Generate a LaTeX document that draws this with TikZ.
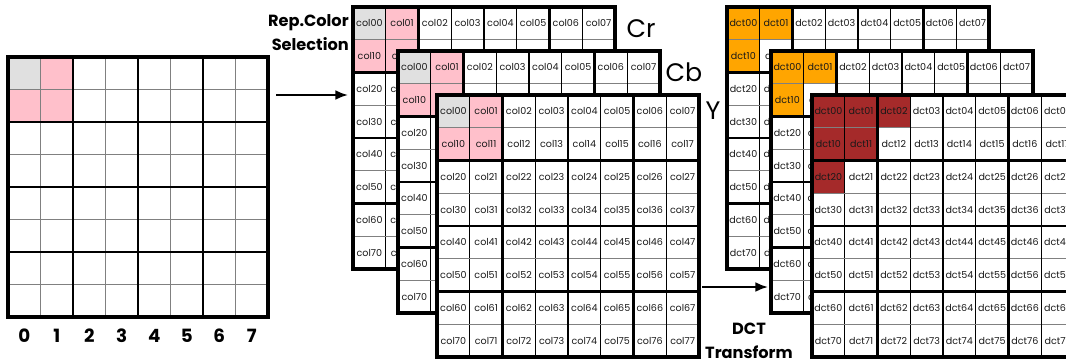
\documentclass[tikz,border=0pt]{standalone}
\usepackage{fontspec}
\setmainfont{Poppins}
\usepackage{xcolor}
\usepackage{tikz}
\usetikzlibrary{arrows.meta}
\tikzset{>=latex}
\colorlet{cellgray}{black!12}
\definecolor{cellpink}{HTML}{FFC0CB}
\definecolor{cellorange}{HTML}{FFA500}
\definecolor{cellred}{HTML}{A52A2A}
\tikzstyle{thickline}=[line width=2.1pt]
\tikzstyle{frame}=[line width=2.8pt]
\tikzstyle{hline}=[thin,black!50]
\tikzstyle{vline}=[thin,black]
\tikzstyle{celltext}=[font=\fontsize{6.8}{7}\selectfont,text=black!90,inner sep=0pt]
\tikzstyle{biglabel}=[font=\fontsize{18}{20}\selectfont,inner sep=0pt]
\tikzstyle{steplabel}=[font=\bfseries\fontsize{11.5}{17}\selectfont,inner sep=0pt]
\tikzstyle{flow}=[-{Latex[length=9pt,width=7pt]},line width=1.4pt]
\newcommand{\cs}{32.75}
% one 8x8 block: x, y, name, prefix, highlighted cells
\newcommand{\coefblock}[5]{%
  \begin{scope}[shift={(#1,#2)}]
    \fill[white] (0,0) rectangle (8*\cs,8*\cs);
    \foreach \r/\c/\hc in {#5} {\fill[\hc] (\c*\cs,\r*\cs) rectangle ++(\cs,\cs);}
    \foreach \r in {0,...,7} \foreach \c in {0,...,7}
      \node[celltext] (#3-\r\c) at ({(\c+0.5)*\cs},{(\r+0.5)*\cs}) {#4\r\c};
    \foreach \i in {1,3,5,7} {
      \draw[hline] (0,\i*\cs) -- (8*\cs,\i*\cs);
      \draw[vline] (\i*\cs,0) -- (\i*\cs,8*\cs);}
    \foreach \i in {2,4,6} {
      \draw[thickline] (0,\i*\cs) -- (8*\cs,\i*\cs);
      \draw[thickline] (\i*\cs,0) -- (\i*\cs,8*\cs);}
    \draw[frame] (0,0) rectangle (8*\cs,8*\cs);
  \end{scope}}
\begin{document}
\begin{tikzpicture}[x=0.025cm, y=-0.025cm, line cap=rect]
  \clip (0,0) rectangle (1066,363);
  \fill[white] (0,0) rectangle (1066,363);
  % input pixel block
  \begin{scope}[shift={(8,57)}]
    \fill[cellgray] (0,0) rectangle (32.5,32.5);
    \fill[cellpink] (32.5,0) rectangle (65,32.5);
    \fill[cellpink] (0,32.5) rectangle (65,65);
    \draw[vline] (0,32.5) -- (32.5,32.5) -- (32.5,0);
    \foreach \i in {1,3,5,7} {
      \draw[hline] (0,\i*32.5) -- (260,\i*32.5);
      \draw[hline] (\i*32.5,0) -- (\i*32.5,260);}
    \foreach \i in {2,4,6} {
      \draw[thickline] (0,\i*32.5) -- (260,\i*32.5);
      \draw[thickline] (\i*32.5,0) -- (\i*32.5,260);}
    \draw[frame] (0,0) rectangle (260,260);
    \foreach \i in {0,...,7}
      \node[font=\bfseries\fontsize{13}{14}\selectfont,inner sep=0pt] (idx-\i) at ({(\i+0.5)*32.5},279) {\i};
  \end{scope}
  % colour planes
  \coefblock{353}{7}{cr}{col}{0/0/cellgray,0/1/cellpink,1/0/cellpink,1/1/cellpink}
  \coefblock{398}{51}{cb}{col}{0/0/cellgray,0/1/cellpink,1/0/cellpink,1/1/cellpink}
  \coefblock{437}{95}{y}{col}{0/0/cellgray,0/1/cellpink,1/0/cellpink,1/1/cellpink}
  \node[biglabel] (crlbl) at (641,29) {Cr};
  \node[biglabel] (cblbl) at (684,72) {Cb};
  \node[biglabel] (ylbl) at (713,111) {Y};
  % dct planes
  \coefblock{727}{7}{dcta}{dct}{0/0/cellorange,0/1/cellorange,1/0/cellorange}
  \coefblock{771}{51}{dctb}{dct}{0/0/cellorange,0/1/cellorange,1/0/cellorange}
  \coefblock{812}{95}{dctc}{dct}{0/0/cellred,0/1/cellred,0/2/cellred,1/0/cellred,1/1/cellred,2/0/cellred}
  % steps
  \node[steplabel,anchor=east,align=right] (sellbl) at (349,33) {Rep.Color\\Selection};
  \coordinate (selfrom) at (277,95);
  \coordinate (selto) at (348,95);
  \draw[flow] (selfrom) -- (selto);
  \node[steplabel,align=center] (dctlbl) at (749,341) {DCT\\Transform};
  \coordinate (dctfrom) at (703,287);
  \coordinate (dctto) at (768,287);
  \draw[flow] (dctfrom) -- (dctto);
\end{tikzpicture}
\end{document}
